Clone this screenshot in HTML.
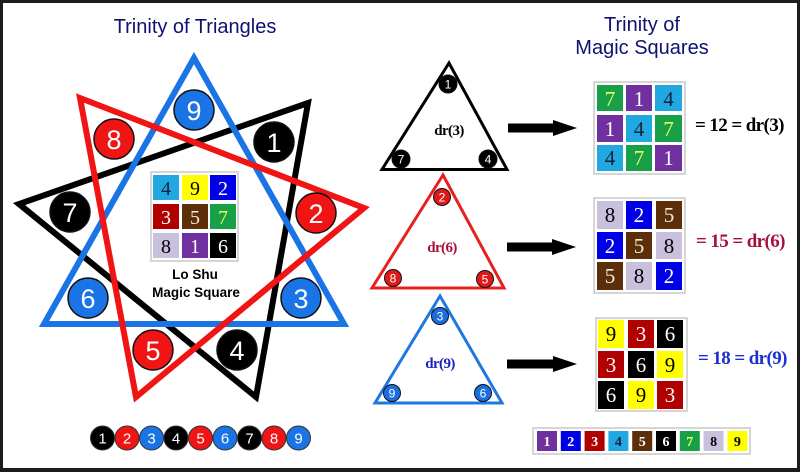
<!DOCTYPE html>
<html><head><meta charset="utf-8"><style>
html,body{margin:0;padding:0;background:#fff;}
svg{display:block;}
.sans{font-family:"Liberation Sans",Arial,sans-serif;}
.serif{font-family:"Liberation Serif","Times New Roman",serif;}
</style></head><body>
<svg width="800" height="472" viewBox="0 0 800 472" xmlns="http://www.w3.org/2000/svg">
<rect x="0" y="0" width="800" height="472" fill="#fff"/>
<!-- frame -->
<rect x="0" y="0" width="800" height="3" fill="#1c1c1c"/>
<rect x="0" y="0" width="3" height="472" fill="#1c1c1c"/>
<rect x="797" y="0" width="3" height="472" fill="#1c1c1c"/>
<rect x="0" y="468" width="800" height="4" fill="#1c1c1c"/>

<!-- Titles -->
<text class="sans" x="195" y="33" font-size="20" fill="#101070" text-anchor="middle">Trinity of Triangles</text>
<text class="sans" x="642" y="31" font-size="20" fill="#101070" text-anchor="middle">Trinity of</text>
<text class="sans" x="642" y="54" font-size="20" fill="#101070" text-anchor="middle">Magic Squares</text>

<!-- Star triangles -->
<g fill="none" stroke-width="6" stroke-linejoin="miter" stroke-miterlimit="10">
<polygon points="308,103 19,204 256,397" stroke="#000"/>
<polygon points="194,58 44,324 344,324" stroke="#1a74e6"/>
<polygon points="80,98 364,208 136,397" stroke="#f01414"/>
</g>

<!-- star circles -->
<g stroke="#111" stroke-width="1.5">
<circle cx="194" cy="110" r="20" fill="#1a74e6"/>
<circle cx="114" cy="139" r="20" fill="#f01414"/>
<circle cx="274" cy="142" r="20" fill="#000"/>
<circle cx="70" cy="212" r="20" fill="#000"/>
<circle cx="316" cy="213" r="20" fill="#f01414"/>
<circle cx="88" cy="298" r="20" fill="#1a74e6"/>
<circle cx="301" cy="298" r="20" fill="#1a74e6"/>
<circle cx="153" cy="350" r="20" fill="#f01414"/>
<circle cx="237" cy="350" r="20" fill="#000"/>
</g>
<g class="sans" font-size="27" fill="#fff" text-anchor="middle">
<text x="194" y="120">9</text>
<text x="114" y="149">8</text>
<text x="274" y="152">1</text>
<text x="70" y="222">7</text>
<text x="316" y="223">2</text>
<text x="88" y="308">6</text>
<text x="301" y="308">3</text>
<text x="153" y="360">5</text>
<text x="237" y="360">4</text>
</g>

<!-- Lo Shu square -->
<rect x="151" y="172" width="87" height="89" fill="#fff" stroke="#c8c8c8" stroke-width="1.5"/>
<g>
<rect x="153" y="175" width="26" height="25" fill="#22a8e0"/>
<rect x="182" y="175" width="26" height="25" fill="#ffff00"/>
<rect x="210" y="175" width="26" height="25" fill="#0000e6"/>
<rect x="153" y="204" width="26" height="25" fill="#b00000"/>
<rect x="182" y="204" width="26" height="25" fill="#5c2e0a"/>
<rect x="210" y="204" width="26" height="25" fill="#18a048"/>
<rect x="153" y="233" width="26" height="25" fill="#c8c0dc"/>
<rect x="182" y="233" width="26" height="25" fill="#7030a0"/>
<rect x="210" y="233" width="26" height="25" fill="#000"/>
</g>
<g class="serif" font-size="20" text-anchor="middle">
<text x="166" y="195" fill="#142040">4</text>
<text x="195" y="195" fill="#000">9</text>
<text x="223" y="195" fill="#fff">2</text>
<text x="166" y="224" fill="#fff">3</text>
<text x="195" y="224" fill="#f4ecd8">5</text>
<text x="223" y="224" fill="#e4ff60">7</text>
<text x="166" y="253" fill="#000">8</text>
<text x="195" y="253" fill="#fff">1</text>
<text x="223" y="253" fill="#fff">6</text>
</g>
<text class="sans" x="195" y="279" font-size="13.5" font-weight="bold" fill="#000" text-anchor="middle">Lo Shu</text>
<text class="sans" x="196" y="297" font-size="13.5" font-weight="bold" fill="#000" text-anchor="middle">Magic Square</text>

<!-- bottom circles row -->
<g stroke="#333" stroke-width="1">
<circle cx="102.5" cy="438" r="12" fill="#000"/>
<circle cx="127" cy="438" r="12" fill="#f01414"/>
<circle cx="151.5" cy="438" r="12" fill="#1a74e6"/>
<circle cx="176" cy="438" r="12" fill="#000"/>
<circle cx="200.5" cy="438" r="12" fill="#f01414"/>
<circle cx="225" cy="438" r="12" fill="#1a74e6"/>
<circle cx="249.5" cy="438" r="12" fill="#000"/>
<circle cx="274" cy="438" r="12" fill="#f01414"/>
<circle cx="298.5" cy="438" r="12" fill="#1a74e6"/>
</g>
<g class="sans" font-size="15" fill="#fff" text-anchor="middle">
<text x="102.5" y="443.5">1</text>
<text x="127" y="443.5">2</text>
<text x="151.5" y="443.5">3</text>
<text x="176" y="443.5">4</text>
<text x="200.5" y="443.5">5</text>
<text x="225" y="443.5">6</text>
<text x="249.5" y="443.5">7</text>
<text x="274" y="443.5">8</text>
<text x="298.5" y="443.5">9</text>
</g>

<!-- small triangles -->
<polygon points="449,63 382,169.5 507,169.5" fill="none" stroke="#000" stroke-width="3"/>
<polygon points="443,175 372,288 504,288" fill="none" stroke="#e82020" stroke-width="3"/>
<polygon points="440,296 375,403 502,403" fill="none" stroke="#1e78e0" stroke-width="3"/>

<g stroke="#111" stroke-width="1">
<circle cx="448" cy="84" r="9" fill="#000"/>
<circle cx="401" cy="159" r="9" fill="#000"/>
<circle cx="488" cy="159" r="9" fill="#000"/>
<circle cx="442" cy="197" r="8.5" fill="#e01818"/>
<circle cx="393" cy="278" r="8.5" fill="#e01818"/>
<circle cx="485" cy="279" r="8.5" fill="#e01818"/>
<circle cx="440" cy="316" r="8.5" fill="#1a6ee0"/>
<circle cx="392" cy="393" r="8.5" fill="#1a6ee0"/>
<circle cx="483" cy="393" r="8.5" fill="#1a6ee0"/>
</g>
<g class="sans" font-size="12" fill="#fff" text-anchor="middle">
<text x="448" y="88.5">1</text>
<text x="401" y="163.5">7</text>
<text x="488" y="163.5">4</text>
<text x="442" y="201.5">2</text>
<text x="393" y="282.5">8</text>
<text x="485" y="283.5">5</text>
<text x="440" y="320.5">3</text>
<text x="392" y="397.5">9</text>
<text x="483" y="397.5">6</text>
</g>

<g class="serif" font-size="15" font-weight="bold" text-anchor="middle" letter-spacing="-0.6">
<text x="449" y="135" fill="#000">dr(3)</text>
<text x="442" y="252" fill="#a8103c">dr(6)</text>
<text x="440" y="368" fill="#1a22c0">dr(9)</text>
</g>

<!-- arrows -->
<g fill="#000">
<polygon points="508,123.5 553,123.5 553,120 577,128 553,136 553,132.5 508,132.5"/>
<polygon points="507,242.5 552,242.5 552,239 576,247 552,255 552,251.5 507,251.5"/>
<polygon points="507,359.5 553,359.5 553,356 577,364 553,372 553,368.5 507,368.5"/>
</g>

<!-- magic square 1 -->
<rect x="594" y="82" width="91" height="92" fill="#fff" stroke="#c8c8c8" stroke-width="1.5"/>
<rect x="597" y="85" width="26" height="26" fill="#18a048"/>
<rect x="626" y="85" width="26" height="26" fill="#7030a0"/>
<rect x="655" y="85" width="27" height="26" fill="#22a8e0"/>
<rect x="597" y="115" width="26" height="27" fill="#7030a0"/>
<rect x="626" y="115" width="26" height="27" fill="#22a8e0"/>
<rect x="655" y="115" width="27" height="27" fill="#18a048"/>
<rect x="597" y="145" width="26" height="26" fill="#22a8e0"/>
<rect x="626" y="145" width="26" height="26" fill="#18a048"/>
<rect x="655" y="145" width="27" height="26" fill="#7030a0"/>
<g class="serif" font-size="21" text-anchor="middle">
<text x="610" y="106" fill="#e4ff60">7</text>
<text x="639" y="106" fill="#fff">1</text>
<text x="668.5" y="106" fill="#142040">4</text>
<text x="610" y="136" fill="#fff">1</text>
<text x="639" y="136" fill="#142040">4</text>
<text x="668.5" y="136" fill="#e4ff60">7</text>
<text x="610" y="165" fill="#142040">4</text>
<text x="639" y="165" fill="#e4ff60">7</text>
<text x="668.5" y="165" fill="#fff">1</text>
</g>

<!-- magic square 2 -->
<rect x="594" y="198" width="91" height="95" fill="#fff" stroke="#c8c8c8" stroke-width="1.5"/>
<rect x="597" y="201" width="26" height="28" fill="#c8c0dc"/>
<rect x="626" y="201" width="26" height="28" fill="#0000e6"/>
<rect x="656" y="201" width="26" height="28" fill="#5c2e0a"/>
<rect x="597" y="232" width="26" height="27" fill="#0000e6"/>
<rect x="626" y="232" width="26" height="27" fill="#5c2e0a"/>
<rect x="656" y="232" width="26" height="27" fill="#c8c0dc"/>
<rect x="597" y="262" width="26" height="28" fill="#5c2e0a"/>
<rect x="626" y="262" width="26" height="28" fill="#c8c0dc"/>
<rect x="656" y="262" width="26" height="28" fill="#0000e6"/>
<g class="serif" font-size="21" text-anchor="middle">
<text x="610" y="222" fill="#000">8</text>
<text x="639" y="222" fill="#fff">2</text>
<text x="669" y="222" fill="#f4ecd8">5</text>
<text x="610" y="253" fill="#fff">2</text>
<text x="639" y="253" fill="#f4ecd8">5</text>
<text x="669" y="253" fill="#000">8</text>
<text x="610" y="283" fill="#f4ecd8">5</text>
<text x="639" y="283" fill="#000">8</text>
<text x="669" y="283" fill="#fff">2</text>
</g>

<!-- magic square 3 -->
<rect x="596" y="318" width="91" height="93" fill="#fff" stroke="#c8c8c8" stroke-width="1.5"/>
<rect x="598" y="320" width="26" height="28" fill="#ffff00"/>
<rect x="628" y="320" width="26" height="28" fill="#b00000"/>
<rect x="657" y="320" width="26" height="28" fill="#000"/>
<rect x="598" y="351" width="26" height="27" fill="#b00000"/>
<rect x="628" y="351" width="26" height="27" fill="#000"/>
<rect x="657" y="351" width="26" height="27" fill="#ffff00"/>
<rect x="598" y="381" width="26" height="28" fill="#000"/>
<rect x="628" y="381" width="26" height="28" fill="#ffff00"/>
<rect x="657" y="381" width="26" height="28" fill="#b00000"/>
<g class="serif" font-size="21" text-anchor="middle">
<text x="611" y="341" fill="#000">9</text>
<text x="641" y="341" fill="#fff">3</text>
<text x="670" y="341" fill="#fff">6</text>
<text x="611" y="372" fill="#fff">3</text>
<text x="641" y="372" fill="#fff">6</text>
<text x="670" y="372" fill="#000">9</text>
<text x="611" y="402" fill="#fff">6</text>
<text x="641" y="402" fill="#000">9</text>
<text x="670" y="402" fill="#fff">3</text>
</g>

<!-- equations -->
<g class="serif" font-size="19" font-weight="bold" letter-spacing="-0.6">
<text x="695" y="131" fill="#000">= 12 = dr(3)</text>
<text x="696" y="247" fill="#a8103c">= 15 = dr(6)</text>
<text x="698" y="364" fill="#1a30d0">= 18 = dr(9)</text>
</g>

<!-- bottom bar -->
<rect x="533" y="428" width="217" height="26" fill="#fff" stroke="#c8c8c8" stroke-width="1.5"/>
<rect x="537" y="431" width="20" height="20" fill="#7030a0"/>
<rect x="560.8" y="431" width="20" height="20" fill="#0000e6"/>
<rect x="584.6" y="431" width="20" height="20" fill="#b00000"/>
<rect x="608.4" y="431" width="20" height="20" fill="#22a8e0"/>
<rect x="632.2" y="431" width="20" height="20" fill="#5c2e0a"/>
<rect x="656" y="431" width="20" height="20" fill="#000"/>
<rect x="679.8" y="431" width="20" height="20" fill="#18a048"/>
<rect x="703.6" y="431" width="20" height="20" fill="#c8c0dc"/>
<rect x="727.4" y="431" width="20" height="20" fill="#ffff00"/>
<g class="serif" font-size="14" font-weight="bold" text-anchor="middle">
<text x="547" y="446" fill="#fff">1</text>
<text x="570.8" y="446" fill="#fff">2</text>
<text x="594.6" y="446" fill="#fff">3</text>
<text x="618.4" y="446" fill="#142040">4</text>
<text x="642.2" y="446" fill="#fff">5</text>
<text x="666" y="446" fill="#fff">6</text>
<text x="689.8" y="446" fill="#e4ff60">7</text>
<text x="713.6" y="446" fill="#000">8</text>
<text x="737.4" y="446" fill="#000">9</text>
</g>
</svg>
</body></html>
